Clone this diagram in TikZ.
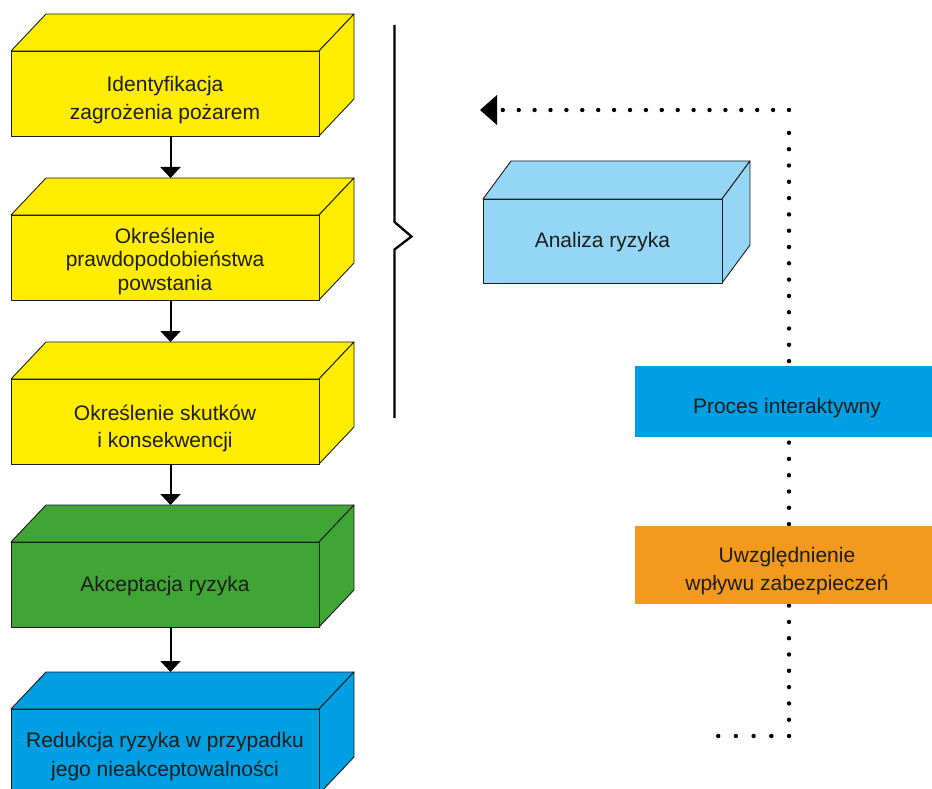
\documentclass[tikz,border=0pt]{standalone}
\usepackage{fontspec}
\setmainfont{Liberation Sans}
\usetikzlibrary{arrows.meta,calc}

\definecolor{boxyellow}{HTML}{FFED00}
\definecolor{boxgreen}{HTML}{3FA535}
\definecolor{boxblue}{HTML}{009FE3}
\definecolor{boxsky}{HTML}{95D5F5}
\definecolor{boxorange}{HTML}{F39A1E}
\definecolor{ink}{HTML}{1D1D1B}

\tikzset{
  face/.style={draw=ink, line width=0.9pt, line join=round},
  frontface/.style={face, rectangle, inner sep=0pt, outer sep=0pt},
  flatbox/.style={rectangle, inner sep=0pt, outer sep=0pt},
  caption/.style={font=\fontsize{21}{28}\selectfont, align=center, inner sep=0pt, text=ink},
  flow/.style={-{Triangle[length=11pt,width=20pt]}, line width=2pt, draw=black},
  bracket/.style={line width=2.3pt, line join=miter, draw=black},
  dotmark/.style={fill=black}
}

% 3D block: colour, left, top, right, bottom of the front face, depth dx, depth dy, name
\newcommand{\prismbox}[8]{%
  \draw[face, fill=#1] (#2,#3) -- (#2+#6,#3-#7) -- (#4+#6,#3-#7) -- (#4,#3) -- cycle;
  \draw[face, fill=#1] (#4,#3) -- (#4+#6,#3-#7) -- (#4+#6,#5-#7) -- (#4,#5) -- cycle;
  \node[frontface, fill=#1, minimum width={(#4-#2)*1pt}, minimum height={(#5-#3)*1pt}]
    (#8) at ({(#2+#4)/2},{(#3+#5)/2}) {};
  \coordinate (#8-back) at (#2+#6,#3-#7);
}

\begin{document}
\begin{tikzpicture}[x=1pt, y=-1pt]
  \useasboundingbox (0,0) rectangle (932,789);
  \clip (0,0) rectangle (932,789);

  % left column of blocks
  \prismbox{boxyellow}{11}{51}{319}{136}{35}{37}{f1}
  \prismbox{boxyellow}{11}{215}{319}{300}{35}{37}{f2}
  \prismbox{boxyellow}{11}{379}{319}{464}{35}{37}{f3}
  \prismbox{boxgreen}{11}{542}{319}{627}{35}{37}{f4}
  \prismbox{boxblue}{11}{709}{319}{794}{35}{37}{f5}

  \node[caption] (t1) at (165,100.5) {Identyfikacja\\zagrożenia pożarem};
  \node[caption, font=\fontsize{21}{23.5}\selectfont] (t2) at (165,261) {Określenie\\prawdopodobieństwa\\powstania};
  \node[caption, font=\fontsize{21}{27}\selectfont] (t3) at (165,428) {Określenie skutków\\i konsekwencji};
  \node[caption] (t4) at (165,586.5) {Akceptacja ryzyka};
  \node[caption, font=\fontsize{21}{29}\selectfont] (t5) at (165,757) {Redukcja ryzyka w przypadku\\jego nieakceptowalności};

  % flow arrows between the blocks
  \coordinate (ax) at (170.5,0);
  \draw[flow] (f1.south -| ax) -- (ax |- f2-back);
  \draw[flow] (f2.south -| ax) -- (ax |- f3-back);
  \draw[flow] (f3.south -| ax) -- (ax |- f4-back);
  \draw[flow] (f4.south -| ax) -- (ax |- f5-back);

  % bracket grouping the first three steps
  \coordinate (br-top) at (394.5,25);
  \coordinate (br-bot) at (394.5,418);
  \draw[bracket] (br-top) -- (394.5,222) -- (411.5,236.5) -- (394.5,249.5) -- (br-bot);

  % analysis block
  \prismbox{boxsky}{483}{199}{722}{283}{28}{38}{fa}
  \node[caption] (ta) at (602.5,242.5) {Analiza ryzyka};

  % dotted feedback loop
  \coordinate (loop-start) at (718,736);
  \coordinate (loop-corner) at (789,736);
  \coordinate (loop-top) at (789,110);
  \coordinate (loop-tip) at (480,110);
  \foreach \k in {1,...,4} \fill[dotmark] ($(loop-corner)+(-17.7*\k,0)$) circle (2.2pt);
  \foreach \k in {0,...,37} \fill[dotmark] ($(loop-corner)+(0,-16.3*\k)$) circle (2.2pt);
  \foreach \k in {0,...,18} \fill[dotmark] ($(loop-top)+(-15.9*\k,0)$) circle (2.2pt);
  \fill[black] (loop-tip) -- ++(17,-15) -- ++(0,30) -- cycle;

  % labels placed on the loop
  \node[flatbox, fill=boxblue, minimum width=304pt, minimum height=71pt] (pi) at (787,401.5) {};
  \node[caption] (tpi) at (787,408.5) {Proces interaktywny};
  \node[flatbox, fill=boxorange, minimum width=304pt, minimum height=78pt] (uz) at (787,565) {};
  \node[caption] (tuz) at (787,571.5) {Uwzględnienie\\wpływu zabezpieczeń};
\end{tikzpicture}
\end{document}
